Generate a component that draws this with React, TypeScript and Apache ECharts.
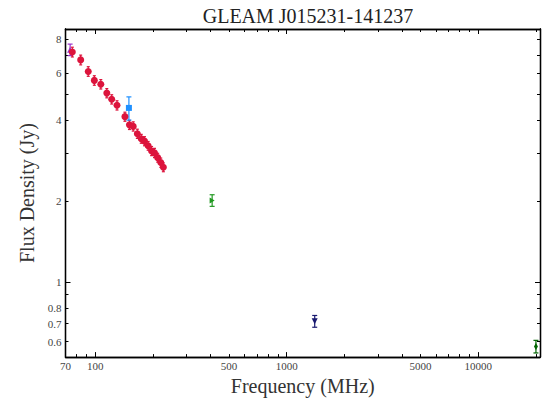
import React, { useEffect, useRef } from "react";
import * as echarts from "echarts";

// ---- data (frequency in MHz, flux density in Jy) ----
const GLEAM_FREQ = [76, 84, 92, 99, 107, 115, 122, 130, 143, 151, 158, 166, 174, 181, 189, 197, 204, 212, 220, 227];
const GLEAM_FLUX = [7.17, 6.7, 6.07, 5.62, 5.44, 5.04, 4.78, 4.54, 4.12, 3.84, 3.79, 3.56, 3.41, 3.34, 3.21, 3.07, 3.02, 2.9, 2.78, 2.67];
const GLEAM_ERR = [0.3, 0.28, 0.25, 0.23, 0.22, 0.2, 0.19, 0.18, 0.16, 0.15, 0.15, 0.14, 0.13, 0.13, 0.12, 0.12, 0.12, 0.11, 0.11, 0.1];

const VLSSR_FREQ = [74];
const VLSSR_FLUX = [7.31];
const VLSSR_ERR = [0.36];

const TGSS_FREQ = [150];
const TGSS_FLUX = [4.44];
const TGSS_ERR = [0.44];

const MRC_FREQ = [408];
const MRC_FLUX = [2.01];
const MRC_ERR = [0.1];

const NVSS_FREQ = [1400];
const NVSS_FLUX = [0.714];
const NVSS_ERR = [0.036];

const AT20G_FREQ = [20000];
const AT20G_FLUX = [0.575];
const AT20G_ERR = [0.031];

const X_MIN = 70;
const X_MAX = 21000;
const Y_MIN = 0.525;
const Y_MAX = 8.73;

const X_LABELS = [70, 100, 500, 1000, 5000, 10000];
const X_MAJOR_TICKS = [100, 1000, 10000];
const X_MINOR_TICKS = [80, 90, 200, 300, 400, 500, 600, 700, 800, 900, 2000, 3000, 4000, 5000, 6000, 7000, 8000, 9000, 20000];
const Y_LABELS = [0.6, 0.7, 0.8, 1, 2, 4, 6, 8];
const Y_MAJOR_TICKS = [1];
const Y_MINOR_TICKS = [0.6, 0.7, 0.8, 0.9, 2, 3, 4, 5, 6, 7, 8];

const TITLE = "GLEAM J015231-141237";
const X_NAME = "Frequency (MHz)";
const Y_NAME = "Flux Density (Jy)";

const L = Math.log10;
const SERIF = "'Liberation Serif', 'DejaVu Serif', serif";

const fmt = (v: number) => String(Number(Math.pow(10, v).toPrecision(6)));

function pts(f: number[], s: number[]) {
  return f.map((fr, i) => [L(fr), L(s[i])]);
}
function errs(f: number[], s: number[], e: number[]) {
  return f.map((fr, i) => [L(fr), L(s[i] - e[i]), L(s[i] + e[i])]);
}

function errorSeries(data: number[][], color: string, cap: number) {
  return {
    type: "custom",
    xAxisIndex: 0,
    yAxisIndex: 0,
    data,
    encode: { x: 0, y: [1, 2] },
    silent: true,
    renderItem: (params: any, api: any) => {
      const x = api.value(0);
      const top = api.coord([x, api.value(2)]);
      const bot = api.coord([x, api.value(1)]);
      const st = { stroke: color, lineWidth: 1.2 };
      return {
        type: "group",
        children: [
          { type: "line", shape: { x1: top[0], y1: top[1], x2: bot[0], y2: bot[1] }, style: st },
          { type: "line", shape: { x1: top[0] - cap, y1: top[1], x2: top[0] + cap, y2: top[1] }, style: st },
          { type: "line", shape: { x1: bot[0] - cap, y1: bot[1], x2: bot[0] + cap, y2: bot[1] }, style: st },
        ],
      };
    },
  };
}

function scatter(data: number[][], color: string, symbol: string, size: any, rotate = 0) {
  return {
    type: "scatter",
    xAxisIndex: 0,
    yAxisIndex: 0,
    data,
    symbol,
    symbolSize: size,
    symbolRotate: rotate,
    itemStyle: { color, opacity: 1 },
    silent: true,
  };
}

function xAxis(position: string, ticks: number[], len: number, labels: number[] | null) {
  return {
    type: "value",
    position,
    min: L(X_MIN),
    max: L(X_MAX),
    axisLine: { show: true, onZero: false, lineStyle: { color: "#000", width: 1.3 } },
    splitLine: { show: false },
    axisTick: {
      show: true,
      inside: true,
      length: len,
      customValues: ticks.map(L),
      lineStyle: { color: "#000", width: 1 },
    },
    axisLabel: labels
      ? {
          show: true,
          customValues: labels.map(L),
          formatter: fmt,
          fontFamily: SERIF,
          fontSize: 11,
          color: "#444",
          margin: 3,
        }
      : { show: false },
  };
}

function yAxis(position: string, ticks: number[], len: number, labels: number[] | null) {
  return {
    type: "value",
    position,
    min: L(Y_MIN),
    max: L(Y_MAX),
    axisLine: { show: true, onZero: false, lineStyle: { color: "#000", width: 1.3 } },
    splitLine: { show: false },
    axisTick: {
      show: true,
      inside: true,
      length: len,
      customValues: ticks.map(L),
      lineStyle: { color: "#000", width: 1 },
    },
    axisLabel: labels
      ? {
          show: true,
          customValues: labels.map(L),
          formatter: fmt,
          fontFamily: SERIF,
          fontSize: 11,
          color: "#444",
          margin: 4,
        }
      : { show: false },
  };
}

export default function App() {
  const ref = useRef<HTMLDivElement>(null);
  useEffect(() => {
    if (!ref.current) return;
    const chart = echarts.init(ref.current, null, { renderer: "svg" });
    const xs = [
      xAxis("bottom", X_MAJOR_TICKS, 5, X_LABELS),
      xAxis("bottom", X_MINOR_TICKS, 3, null),
      xAxis("top", X_MAJOR_TICKS, 5, null),
      xAxis("top", X_MINOR_TICKS, 3, null),
    ];
    (xs[0] as any).name = X_NAME;
    (xs[0] as any).nameLocation = "middle";
    (xs[0] as any).nameGap = 15;
    (xs[0] as any).nameTextStyle = { fontFamily: SERIF, fontSize: 20, color: "#333", verticalAlign: "top" };
    const ys = [
      yAxis("left", Y_MAJOR_TICKS, 5, Y_LABELS),
      yAxis("left", Y_MINOR_TICKS, 3, null),
      yAxis("right", Y_MAJOR_TICKS, 5, null),
      yAxis("right", Y_MINOR_TICKS, 3, null),
    ];
    (ys[0] as any).name = Y_NAME;
    (ys[0] as any).nameLocation = "middle";
    (ys[0] as any).nameGap = 27;
    (ys[0] as any).nameRotate = 90;
    (ys[0] as any).nameTextStyle = { fontFamily: SERIF, fontSize: 20, color: "#333" };

    chart.setOption({
      animation: false,
      backgroundColor: "#fff",
      title: {
        text: TITLE,
        left: 303,
        top: 1,
        textAlign: "center",
        textStyle: { fontFamily: SERIF, fontSize: 20, fontWeight: "normal", color: "#222" },
      },
      grid: { left: 65.5, right: 6, top: 29, bottom: 40, containLabel: false },
      xAxis: xs,
      yAxis: ys,
      series: [
        errorSeries(errs(VLSSR_FREQ, VLSSR_FLUX, VLSSR_ERR), "#9932cc", 2.5),
        scatter(pts(VLSSR_FREQ, VLSSR_FLUX), "#9932cc", "triangle", 6),
        errorSeries(errs(GLEAM_FREQ, GLEAM_FLUX, GLEAM_ERR), "#dc143c", 1.5),
        scatter(pts(GLEAM_FREQ, GLEAM_FLUX), "#dc143c", "circle", 7),
        errorSeries(errs(TGSS_FREQ, TGSS_FLUX, TGSS_ERR), "#1e90ff", 2.5),
        scatter(pts(TGSS_FREQ, TGSS_FLUX), "#1e90ff", "rect", 6),
        errorSeries(errs(MRC_FREQ, MRC_FLUX, MRC_ERR), "#229922", 2.5),
        scatter(pts(MRC_FREQ, MRC_FLUX), "#229922", "path://M0,0L10,5L0,10Z", [5, 6]),
        errorSeries(errs(NVSS_FREQ, NVSS_FLUX, NVSS_ERR), "#191970", 2.5),
        scatter(pts(NVSS_FREQ, NVSS_FLUX), "#191970", "triangle", 6, 180),
        errorSeries(errs(AT20G_FREQ, AT20G_FLUX, AT20G_ERR), "#006400", 2.5),
        scatter(pts(AT20G_FREQ, AT20G_FLUX), "#006400", "diamond", [4, 7]),
      ],
    });
    return () => chart.dispose();
  }, []);
  return (
    <div
      ref={ref}
      style={{ position: "fixed", left: 0, top: 0, width: 546, height: 401, background: "#fff" }}
    />
  );
}
